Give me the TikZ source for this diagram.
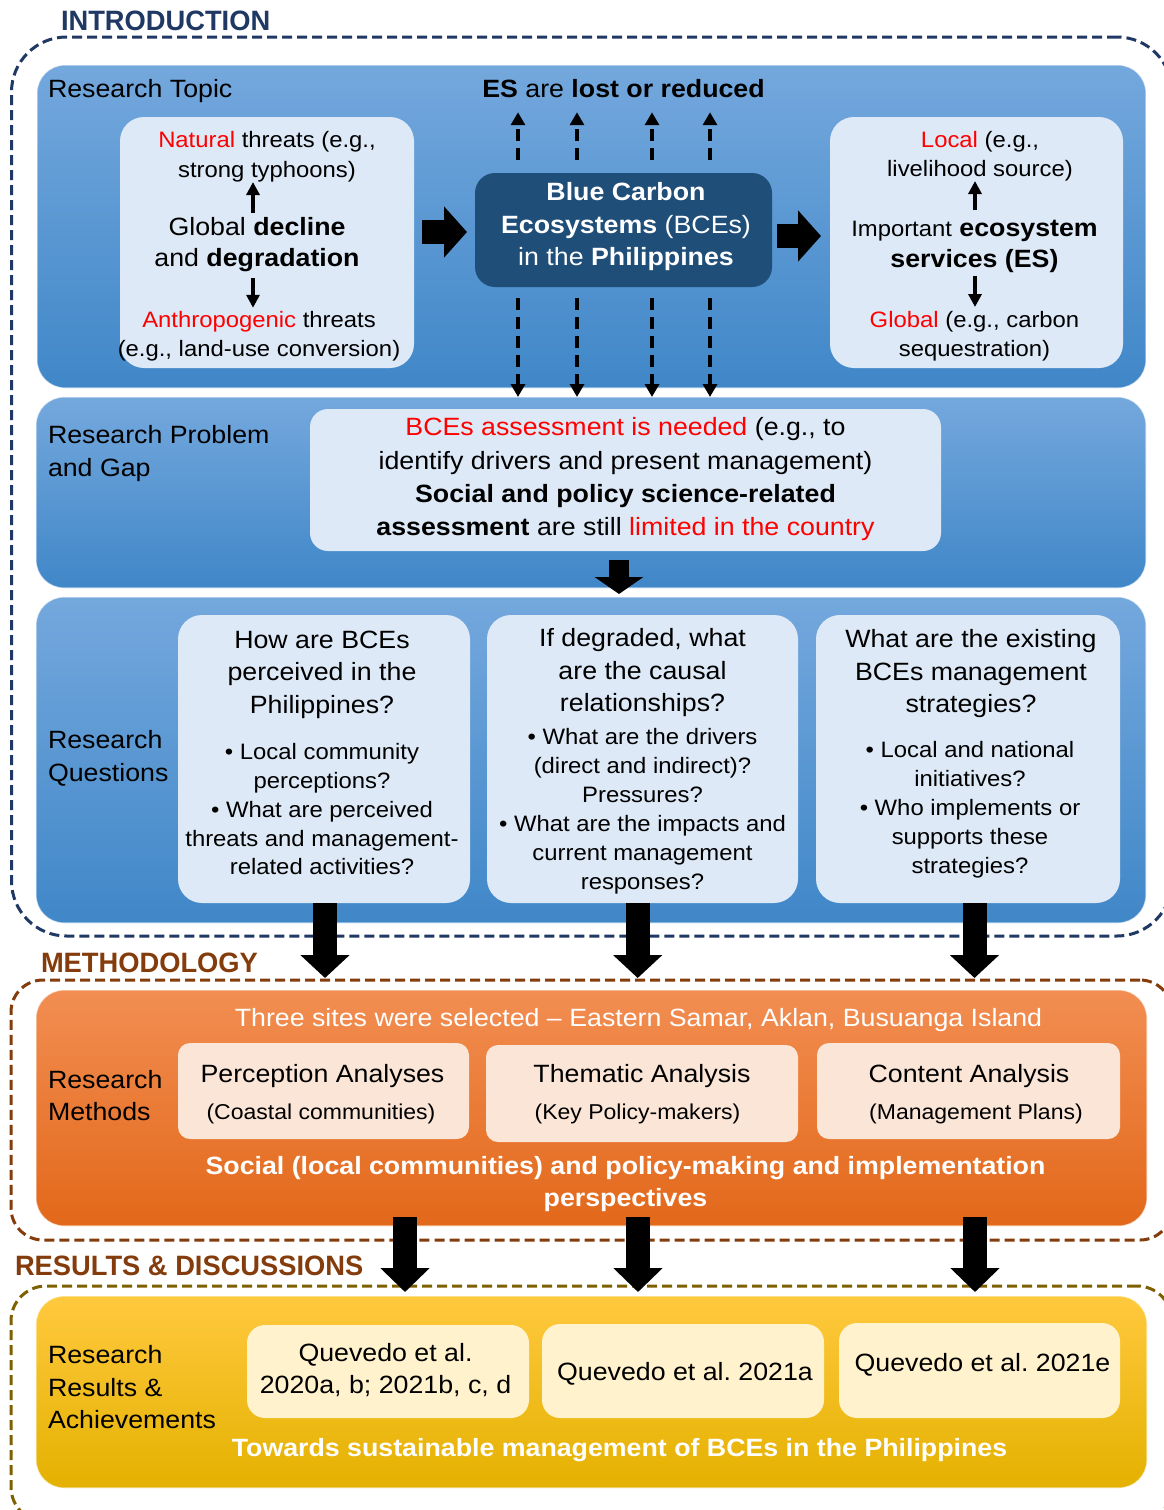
\documentclass[tikz,border=0pt]{standalone}
\usepackage{fontspec}
\setmainfont[FakeStretch=1.07]{Liberation Sans}
\newfontfamily\headfont[FakeStretch=0.975]{Liberation Sans}
\usetikzlibrary{arrows.meta,calc}
\frenchspacing

\definecolor{navyline}{HTML}{1F3864}
\definecolor{brownline}{HTML}{843C0C}
\definecolor{oliveline}{HTML}{7F6000}
\definecolor{bluetop}{RGB}{116,168,221}
\definecolor{bluebot}{RGB}{64,135,200}
\definecolor{paleblue}{RGB}{221,233,246}
\definecolor{deepblue}{HTML}{1F4E79}
\definecolor{orangetop}{RGB}{242,142,82}
\definecolor{orangebot}{RGB}{226,104,26}
\definecolor{peach}{HTML}{FBE5D6}
\definecolor{yellowtop}{RGB}{255,201,62}
\definecolor{yellowbot}{RGB}{228,177,0}
\definecolor{cream}{HTML}{FFF2CC}
\definecolor{alert}{RGB}{255,0,0}

\newcommand{\redtxt}[1]{\textcolor{alert}{#1}}

\tikzset{
  every node/.style={inner sep=0pt, outer sep=0pt},
  sectionframe/.style={rectangle, draw, dash pattern=on 10pt off 5pt, line width=3pt},
  sectiontitle/.style={font=\headfont\bfseries\fontsize{28}{30}\selectfont, anchor=base west},
  stagepanel/.style={rectangle, rounded corners=28pt, draw=white, draw opacity=0.6, line width=1.2pt},
  bluepanel/.style={stagepanel, top color=bluetop, bottom color=bluebot},
  softbox/.style={rectangle, rounded corners=24pt, fill=paleblue},
  darkbox/.style={rectangle, rounded corners=20pt, fill=deepblue},
  peachbox/.style={rectangle, rounded corners=12pt, fill=peach},
  creambox/.style={rectangle, rounded corners=18pt, fill=cream},
  txtL/.style={font=\fontsize{25}{32.5}\selectfont, align=center},
  txtM/.style={font=\fontsize{25}{31}\selectfont, align=center},
  txtS/.style={font=\fontsize{22.3}{28.5}\selectfont, align=center},
  subtext/.style={font=\fontsize{21.5}{26}\selectfont},
  labeltext/.style={font=\fontsize{25}{32.5}\selectfont, align=left, anchor=north west},
  fatarrow/.style={line width=24pt, -{Triangle[length=23pt,width=50pt]}},
  dasharrow/.style={line width=4.5pt, dash pattern=on 12pt off 7pt, -{Triangle[length=13pt,width=14pt]}},
  thinarrow/.style={line width=4pt, -{Triangle[length=13pt,width=13pt]}},
}

\begin{document}
\begin{tikzpicture}[x=1pt,y=-1pt]
\useasboundingbox (0,0) rectangle (1164,1510);
\clip (0,0) rectangle (1164,1510);
\fill[white] (0,0) rectangle (1164,1510);

% ---------- section frames and headings ----------
\node[sectionframe, draw=navyline, rounded corners=55pt, minimum width=1160.5pt, minimum height=899pt] (introframe) at (591.75,486.5) {};
\node[sectionframe, draw=brownline, rounded corners=32pt, minimum width=1161pt, minimum height=260pt] (methodframe) at (591.5,1110) {};
\node[sectionframe, draw=oliveline, rounded corners=35pt, minimum width=1161pt, minimum height=236pt] (resultframe) at (591.5,1404) {};

\node[sectiontitle, text=navyline] (introtitle) at (61,30) {INTRODUCTION};
\node[sectiontitle, text=brownline] (methodtitle) at (41,972) {METHODOLOGY};
\node[sectiontitle, text=brownline] (resulttitle) at (15,1275) {RESULTS \& DISCUSSIONS};

% ---------- research topic ----------
\node[bluepanel, minimum width=1109pt, minimum height=323pt] (topicpanel) at (591.5,226.5) {};
\node[font=\fontsize{25}{32.5}\selectfont, anchor=base west] (topiclabel) at (48,97) {Research Topic};
\node[txtL, anchor=base] (eslost) at (623.5,97) {\textbf{ES} are \textbf{lost or reduced}};

\node[softbox, minimum width=294pt, minimum height=251pt] (threatbox) at (267,242.5) {};
\node[darkbox, minimum width=297pt, minimum height=114pt] (bce) at (623.5,230) {};
\node[softbox, minimum width=293pt, minimum height=251pt] (esbox) at (976.5,242.5) {};

\node[txtS, font=\fontsize{22.3}{29.5}\selectfont, anchor=north] (natural) at (267,131.75) {\redtxt{Natural} threats (e.g.,\\strong typhoons)};
\node[txtM, anchor=north] (decline) at (257,217.75) {Global \textbf{decline}\\and \textbf{degradation}};
\node[txtS, anchor=north] (anthro) at (259,311.75) {\redtxt{Anthropogenic} threats\\(e.g., land-use conversion)};

\node[txtL, anchor=north, text=white] (bcetext) at (626,182.75) {\textbf{Blue Carbon}\\\textbf{Ecosystems} (BCEs)\\in the \textbf{Philippines}};

\node[txtS, anchor=north] (localuse) at (980,131.75) {\redtxt{Local} (e.g.,\\livelihood source)};
\node[txtM, anchor=north] (services) at (974.5,219.75) {{\fontsize{22.3}{31}\selectfont Important} \textbf{ecosystem}\\\textbf{services (ES)}};
\node[txtS, anchor=north] (globaluse) at (974.5,311.75) {\redtxt{Global} (e.g., carbon\\sequestration)};

% ---------- research problem ----------
\node[bluepanel, minimum width=1110pt, minimum height=191pt] (problempanel) at (591,492.5) {};
\node[softbox, rounded corners=18pt, minimum width=631pt, minimum height=142pt] (gapbox) at (625.5,480) {};
\node[labeltext] (problemlabel) at (48,425.75) {Research Problem\\and Gap};
\node[txtL, font=\fontsize{25}{33.3}\selectfont, anchor=north] (gaptext) at (625.5,417.75)
  {\redtxt{BCEs assessment is needed} (e.g., to\\identify drivers and present management)\\\textbf{Social and policy science-related}\\\textbf{assessment} are still \redtxt{limited in the country}};

% ---------- research questions ----------
\node[bluepanel, minimum width=1110pt, minimum height=326pt] (questionpanel) at (591,760) {};
\node[softbox, minimum width=292pt, minimum height=288pt] (q1) at (324,759) {};
\node[softbox, minimum width=311pt, minimum height=288pt] (q2) at (642.5,759) {};
\node[softbox, minimum width=304pt, minimum height=288pt] (q3) at (968,759) {};
\node[labeltext] (questionlabel) at (48,730.75) {Research\\Questions};

\node[txtL, anchor=north] (q1title) at (322,630.75) {How are BCEs\\perceived in the\\Philippines?};
\node[txtS, font=\fontsize{22.3}{28.75}\selectfont, anchor=north] (q1list) at (322,743.75)
  {• Local community\\perceptions?\\• What are perceived\\threats and management-\\related activities?};
\node[txtL, anchor=north] (q2title) at (642.5,628.75) {If degraded, what\\are the causal\\relationships?};
\node[txtS, font=\fontsize{22.3}{29}\selectfont, anchor=north] (q2list) at (642.5,728.75)
  {• What are the drivers\\(direct and indirect)?\\Pressures?\\• What are the impacts and\\current management\\responses?};
\node[txtL, anchor=north] (q3title) at (971,629.75) {What are the existing\\BCEs management\\strategies?};
\node[txtS, font=\fontsize{22.3}{29}\selectfont, anchor=north] (q3list) at (970,741.75)
  {• Local and national\\initiatives?\\• Who implements or\\supports these\\strategies?};

% ---------- methods ----------
\node[stagepanel, top color=orangetop, bottom color=orangebot, minimum width=1111pt, minimum height=236pt] (methodpanel) at (591.5,1108) {};
\node[labeltext, font=\fontsize{25}{32}\selectfont] (methodlabel) at (48,1070.75) {Research\\Methods};
\node[txtL, anchor=base, text=white] (sites) at (638.5,1026) {Three sites were selected – Eastern Samar, Aklan, Busuanga Island};

\node[peachbox, minimum width=291pt, minimum height=96pt] (perception) at (323.5,1091) {};
\node[peachbox, minimum width=312pt, minimum height=97pt] (thematic) at (642,1093.5) {};
\node[peachbox, minimum width=303pt, minimum height=96pt] (content) at (968.5,1091) {};
\node[txtL, anchor=base] (perceptiontitle) at (322.5,1082) {Perception Analyses};
\node[subtext, anchor=base] (perceptionsub) at (321,1119.7) {(Coastal communities)};
\node[txtL, anchor=base] (thematictitle) at (642,1082) {Thematic Analysis};
\node[subtext, anchor=base] (thematicsub) at (637.5,1119.7) {(Key Policy-makers)};
\node[txtL, anchor=base] (contenttitle) at (969,1082) {Content Analysis};
\node[subtext, anchor=base] (contentsub) at (976,1119.7) {(Management Plans)};

\node[align=center, font=\fontsize{25}{32}\selectfont\bfseries, text=white, anchor=north] (perspective) at (625.5,1156.75)
  {Social (local communities) and policy-making and implementation\\perspectives};

% ---------- results ----------
\node[stagepanel, top color=yellowtop, bottom color=yellowbot, minimum width=1111pt, minimum height=192pt] (resultpanel) at (591.5,1392) {};
\node[labeltext] (resultlabel) at (48,1345.75) {Research\\Results \&\\Achievements};
\node[creambox, minimum width=282pt, minimum height=93pt] (paperA) at (388,1371.5) {};
\node[creambox, minimum width=282pt, minimum height=94pt] (paperB) at (683,1371) {};
\node[creambox, minimum width=281pt, minimum height=95pt] (paperC) at (979.5,1370.5) {};
\node[txtL, font=\fontsize{25}{32}\selectfont, anchor=north] (paperAtext) at (385.5,1343.75) {Quevedo et al.\\2020a, b; 2021b, c, d};
\node[txtL, anchor=base] (paperBtext) at (685,1380) {Quevedo et al. 2021a};
\node[txtL, anchor=base] (paperCtext) at (982.5,1371) {Quevedo et al. 2021e};
\node[font=\fontsize{25}{32}\selectfont\bfseries, text=white, anchor=base] (outcome) at (619.5,1456) {Towards sustainable management of BCEs in the Philippines};

% ---------- connectors ----------
% threats around the global decline
\draw[thinarrow] ($(decline.north)+(-4,-5)$) -- ($(natural.south -| decline.north)+(-4,0)$);
\draw[thinarrow] ($(decline.south)+(-4,6)$) -- ($(anthro.north -| decline.south)+(-4,-4)$);
% scales of ecosystem services
\draw[thinarrow] ($(services.north)+(0.5,-9.75)$) -- ($(localuse.south -| services.north)+(0.5,0)$);
\draw[thinarrow] ($(services.south)+(0.5,4)$) -- ($(globaluse.north -| services.south)+(0.5,-4.75)$);

% from threats to the ecosystems and on to their services
\draw[fatarrow] ($(threatbox.east |- bce.west)+(8,2)$) -- ($(bce.west)+(-8,2)$);
\draw[fatarrow] ($(bce.east)+(4.5,6)$) -- ($(esbox.west |- bce.east)+(-9,6)$);

% loss of services (up) and the need for assessment (down)
\foreach \dx in {-105.5,-46.5,28.5,86.5} {
  \draw[dasharrow] ($(bce.north)+(\dx,-13)$) -- ($(eslost.south -| bce.north)+(\dx,15)$);
  \draw[dasharrow] ($(bce.south)+(\dx,11)$) -- ($(problempanel.north -| bce.south)+(\dx,0)$);
}

% problem to questions
\draw[line width=20pt, -{Triangle[length=17pt,width=48pt]}] ($(gapbox.south)+(-6.5,9)$) -- ($(questionpanel.north -| gapbox.south)+(-6.5,-3)$);

% questions to methods
\draw[fatarrow, -{Triangle[length=23pt,width=48pt]}] ($(q1.south)+(1,0)$) -- ($(methodpanel.north -| q1.south)+(1,-12)$);
\draw[fatarrow, -{Triangle[length=23pt,width=48pt]}] ($(q2.south)+(-4.8,0)$) -- ($(methodpanel.north -| q2.south)+(-4.8,-12)$);
\draw[fatarrow, -{Triangle[length=23pt,width=48pt]}] ($(q3.south)+(6.5,0)$) -- ($(methodpanel.north -| q3.south)+(6.5,-12)$);

% methods to results
\foreach \dx in {-186.5,46.5,383.5}
  \draw[fatarrow, -{Triangle[length=24pt,width=48pt]}] ($(methodpanel.south)+(\dx,-9)$) -- ($(resultpanel.north -| methodpanel.south)+(\dx,-4)$);
\end{tikzpicture}
\end{document}
